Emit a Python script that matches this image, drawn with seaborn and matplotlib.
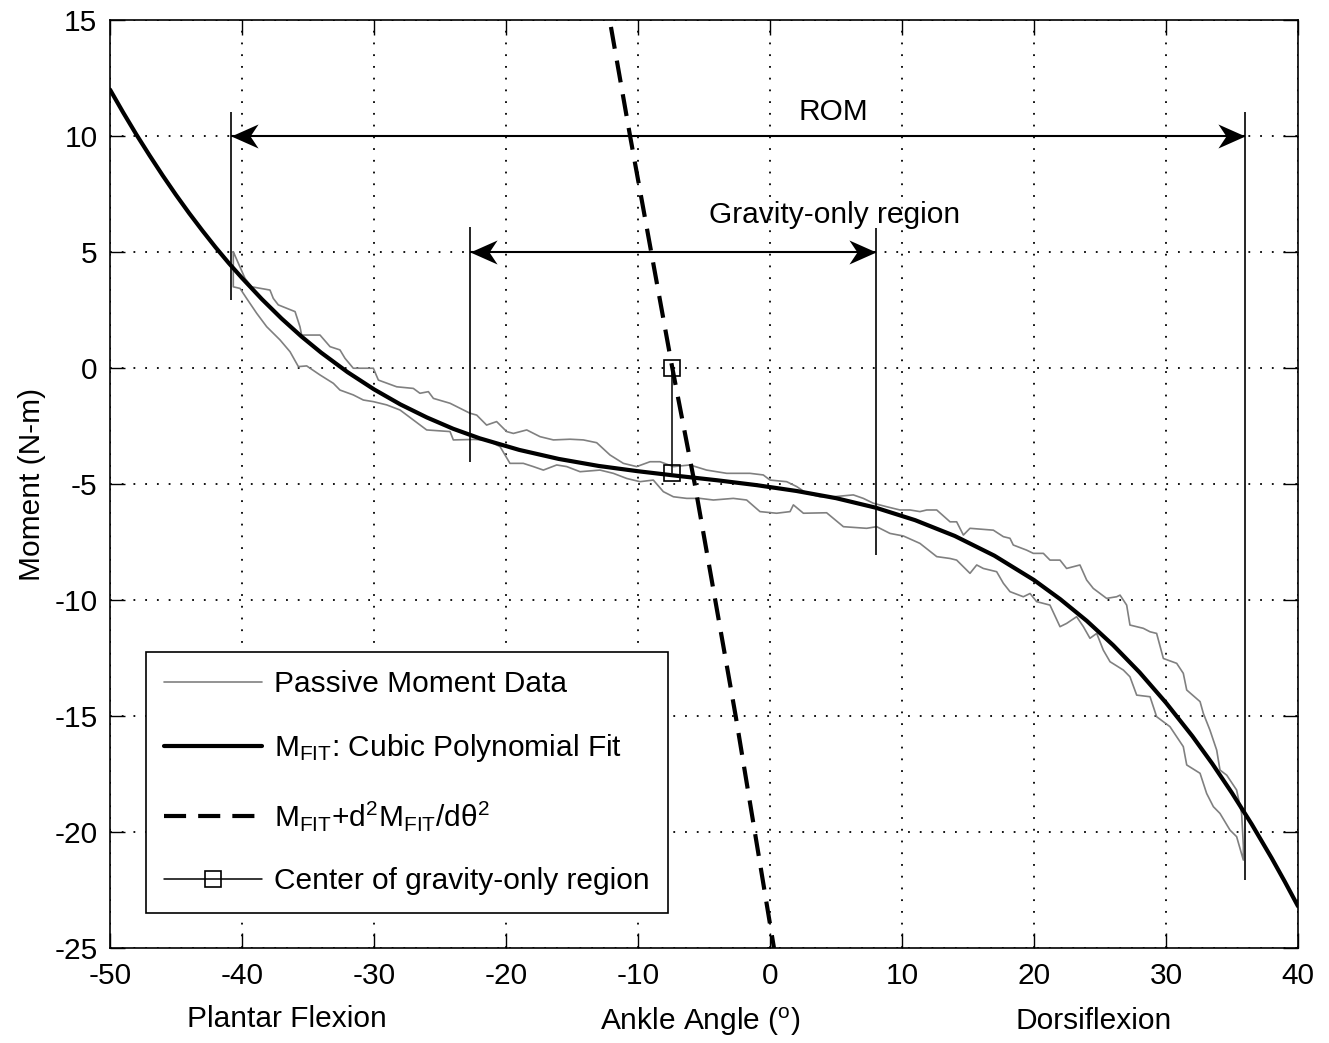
import matplotlib
matplotlib.use('Agg')
import matplotlib.pyplot as plt
from matplotlib.path import Path
import pandas as pd
import seaborn as sns

# cubic polynomial fit
fit_x = [-50, -49, -48, -47, -46, -45, -44, -43, -42, -41,
         -40, -38.5, -37, -35.5, -34, -32, -30, -28, -26, -24,
         -22, -19, -16, -13, -10, -7, -4, -1, 2, 5,
         8, 11, 14, 17, 20, 22, 24, 26, 28, 30,
         32, 33.5, 35, 36.5, 38, 39, 40]
fit_y = [12.0, 11.01, 10.06, 9.16, 8.29, 7.46, 6.67, 5.92, 5.2, 4.52,
         3.88, 2.97, 2.13, 1.36, 0.66, -0.18, -0.92, -1.57, -2.13, -2.62,
         -3.03, -3.53, -3.92, -4.22, -4.45, -4.65, -4.84, -5.05, -5.3, -5.61,
         -6.02, -6.56, -7.24, -8.09, -9.14, -9.97, -10.9, -11.95, -13.12, -14.43,
         -15.87, -17.05, -18.32, -19.67, -21.12, -22.14, -23.2]

# passive moment data: upper branch of the loop
upper_x = [-40.66, -39.77, -39.27, -37.88, -37.63, -37.25, -35.98, -35.61, -35.48, -34.09,
           -33.33, -32.58, -32.2, -31.57, -30.05, -29.67, -28.28, -27.02, -26.52, -25.88,
           -25.5, -24.24, -22.73, -22.22, -21.47, -20.71, -19.95, -19.44, -18.43, -17.42,
           -16.41, -15.15, -14.14, -13.13, -12.12, -11.11, -10.1, -9.09, -8.33, -7.32,
           -6.06, -4.8, -3.28, -1.52, -0.51, 0.0, 1.26, 2.02, 2.78, 3.79,
           4.8, 6.31, 7.07, 7.83, 8.84, 9.85, 10.61, 11.36, 11.87, 12.63,
           13.64, 14.14, 14.65, 15.15, 16.92, 17.68, 18.18, 18.43, 19.44, 19.95,
           20.71, 21.21, 21.97, 22.47, 23.48, 23.99, 24.49, 25.5, 26.26, 26.52,
           27.02, 27.27, 28.28, 28.79, 29.29, 29.8, 30.81, 31.31, 31.57, 32.58,
           32.83, 33.33, 33.84, 34.09, 34.6, 35.35, 35.73, 35.86]
upper_y = [5.01, 3.86, 3.5, 3.36, 3.0, 2.72, 2.43, 1.78, 1.42, 1.42,
           0.92, 0.78, 0.42, -0.01, -0.01, -0.52, -0.81, -0.88, -1.09, -1.02,
           -1.31, -1.52, -1.95, -2.03, -2.46, -2.31, -2.74, -2.82, -2.67, -2.96,
           -3.1, -3.07, -3.1, -3.22, -3.75, -4.11, -4.25, -4.04, -4.04, -4.25,
           -4.18, -4.4, -4.54, -4.54, -4.61, -4.83, -4.9, -5.11, -5.4, -5.55,
           -5.55, -5.47, -5.62, -5.83, -5.98, -6.12, -6.12, -6.19, -6.12, -6.12,
           -6.63, -6.63, -7.2, -6.91, -6.99, -7.27, -7.34, -7.63, -7.85, -7.99,
           -7.99, -8.28, -8.28, -8.64, -8.49, -9.14, -9.5, -9.93, -9.86, -9.79,
           -10.22, -11.08, -11.22, -11.37, -11.44, -12.52, -12.73, -13.16, -13.88, -14.38,
           -14.89, -15.61, -16.47, -17.33, -17.55, -18.19, -19.2, -20.6]

# passive moment data: lower branch of the loop
lower_x = [-40.66, -40.15, -39.65, -38.89, -38.13, -37.12, -36.36, -35.73, -35.1, -34.09,
           -33.08, -32.58, -31.57, -30.81, -30.05, -29.04, -28.03, -27.02, -26.01, -24.24,
           -23.99, -22.47, -21.47, -20.45, -19.7, -18.69, -17.93, -17.17, -16.16, -15.4,
           -14.39, -12.88, -11.87, -10.86, -9.85, -8.84, -8.08, -7.32, -6.31, -5.3,
           -4.29, -2.78, -1.77, -0.76, 0.5, 1.52, 1.77, 2.53, 4.29, 5.56,
           7.32, 8.08, 9.09, 10.1, 11.36, 12.63, 13.64, 14.14, 14.9, 15.15,
           15.66, 16.16, 17.17, 17.68, 18.18, 19.19, 19.7, 20.2, 21.21, 21.97,
           22.47, 23.23, 23.74, 24.24, 24.75, 25.25, 25.76, 26.77, 27.27, 27.78,
           28.79, 29.29, 30.3, 30.81, 31.31, 31.57, 32.58, 33.08, 33.59, 34.09,
           34.85, 35.35, 35.86]
lower_y = [3.5, 3.43, 3.0, 2.36, 1.78, 1.21, 0.7, 0.06, 0.09, -0.3,
           -0.66, -0.95, -1.16, -1.38, -1.45, -1.59, -1.81, -2.24, -2.67, -2.74,
           -3.1, -3.08, -3.1, -3.39, -4.11, -4.11, -4.25, -4.4, -4.18, -4.25,
           -4.47, -4.4, -4.54, -4.76, -4.9, -4.83, -5.33, -5.55, -5.62, -5.62,
           -5.69, -5.62, -5.69, -6.19, -6.26, -6.19, -5.9, -6.26, -6.24, -6.84,
           -6.91, -6.84, -7.13, -7.24, -7.56, -8.13, -8.21, -8.28, -8.71, -8.85,
           -8.49, -8.64, -8.78, -9.28, -9.64, -9.86, -9.72, -10.07, -10.22, -11.15,
           -11.01, -10.72, -11.15, -11.65, -11.44, -12.16, -12.66, -13.02, -13.31, -14.1,
           -14.17, -15.03, -15.46, -15.89, -16.32, -17.11, -17.47, -18.34, -18.91, -19.2,
           -19.92, -20.2, -21.21]

# M_FIT + d2M_FIT/dtheta2
curv_x = [-12.05, -10.6, -7.4, -5.7, -2.6, 0.3]
curv_y = [14.7, 10.0, 0.0, -5.0, -15.0, -25.0]

# center of gravity-only region
center_x = [-7.45, -7.45]
center_y = [0.0, -4.54]

# range of motion and gravity-only region limits
rom_x = [-40.8, 36.0]
rom_ylo = [2.93, -22.07]
rom_yhi = [11.05, 11.05]
rom_arrow_y = 10
grav_x = [-22.73, 8.01]
grav_ylo = [-4.05, -8.06]
grav_yhi = [6.09, 6.03]
grav_arrow_y = 5

passive = pd.DataFrame({'angle': upper_x + lower_x[::-1] + upper_x[:1],
                        'moment': upper_y + lower_y[::-1] + upper_y[:1]})
fit = pd.DataFrame({'angle': fit_x, 'moment': fit_y})
curv = pd.DataFrame({'angle': curv_x, 'moment': curv_y})
center = pd.DataFrame({'angle': center_x, 'moment': center_y})

sns.set_style('ticks')
plt.rcParams['font.family'] = ['Liberation Sans', 'DejaVu Sans']
plt.rcParams['mathtext.fontset'] = 'custom'
plt.rcParams['mathtext.rm'] = 'Liberation Sans'
plt.rcParams['mathtext.it'] = 'Liberation Sans:italic'
plt.rcParams['mathtext.bf'] = 'Liberation Sans:bold'
plt.rcParams['axes.unicode_minus'] = False
plt.rcParams['text.color'] = 'k'
plt.rcParams['axes.labelcolor'] = 'k'

FS = 21.5

fig = plt.figure(figsize=(13.29, 10.43), dpi=100)
ax = fig.add_axes([110 / 1329, 95 / 1043, 1188 / 1329, 928 / 1043])

sns.lineplot(data=passive, x='angle', y='moment', sort=False, estimator=None,
             color='#808080', lw=1.2, ax=ax, label='Passive Moment Data')
sns.lineplot(data=fit, x='angle', y='moment', sort=False, estimator=None,
             color='k', lw=3, ax=ax, label=r'M$_{\mathrm{FIT}}$: Cubic Polynomial Fit')
sns.lineplot(data=curv, x='angle', y='moment', sort=False, estimator=None,
             color='k', lw=3, linestyle=(0, (5.3, 2.9)), ax=ax,
             label=r'M$_{\mathrm{FIT}}$+d$^{2}$M$_{\mathrm{FIT}}$/d$\mathrm{\theta}^{2}$')
sns.lineplot(data=center, x='angle', y='moment', sort=False, estimator=None,
             color='k', lw=1.1, marker='s', markersize=12, markerfacecolor='none',
             markeredgecolor='k', markeredgewidth=1.2, ax=ax,
             label='Center of gravity-only region')

# limit lines and double arrows with swept heads
ax.vlines(rom_x, rom_ylo, rom_yhi, color='k', lw=1.2)
ax.vlines(grav_x, grav_ylo, grav_yhi, color='k', lw=1.2)
ax.hlines([rom_arrow_y, grav_arrow_y], [rom_x[0], grav_x[0]], [rom_x[1], grav_x[1]],
          color='k', lw=1.5)
head_left = Path([(0, 0), (27, 12), (19, 0), (27, -12), (0, 0)],
                 [Path.MOVETO, Path.LINETO, Path.LINETO, Path.LINETO, Path.CLOSEPOLY])
head_right = Path([(0, 0), (-27, 12), (-19, 0), (-27, -12), (0, 0)],
                  [Path.MOVETO, Path.LINETO, Path.LINETO, Path.LINETO, Path.CLOSEPOLY])
ax.plot([rom_x[0], grav_x[0]], [rom_arrow_y, grav_arrow_y], ls='none',
        marker=head_left, markersize=39, color='k', mew=0)
ax.plot([rom_x[1], grav_x[1]], [rom_arrow_y, grav_arrow_y], ls='none',
        marker=head_right, markersize=39, color='k', mew=0)
ax.text(4.8, 11.05, 'ROM', fontsize=FS, ha='center', va='center')
ax.text(4.9, 6.6, 'Gravity-only region', fontsize=FS, ha='center', va='center')

ax.set_xlim(-50, 40)
ax.set_ylim(-25, 15)
ax.set_xticks(range(-50, 41, 10))
ax.set_yticks(range(-25, 16, 5))
ax.grid(True, color='k', ls=(0, (1, 5.5)), lw=1.3)
ax.tick_params(direction='in', length=10.5, width=1, top=True, right=True,
               labelsize=FS, colors='k')
ax.tick_params(axis='x', pad=10)
ax.tick_params(axis='y', pad=9)
for sp in ax.spines.values():
    sp.set_visible(True)
    sp.set_color('k')
    sp.set_linewidth(1.2)

ax.set_xlabel('')
ax.set_ylabel('Moment (N-m)', fontsize=FS, labelpad=6)
ax.text(0.497, -0.079, r'Ankle Angle ($^{\mathrm{o}}$)', fontsize=FS,
        ha='center', va='center', transform=ax.transAxes)
ax.text(0.149, -0.077, 'Plantar Flexion', fontsize=FS,
        ha='center', va='center', transform=ax.transAxes)
ax.text(0.828, -0.079, 'Dorsiflexion', fontsize=FS,
        ha='center', va='center', transform=ax.transAxes)

leg = ax.legend(loc='lower left', bbox_to_anchor=(0.0303, 0.0377), borderaxespad=0,
                fontsize=FS, handlelength=3.3, handletextpad=0.4, borderpad=0.6,
                fancybox=False, framealpha=1, edgecolor='k', numpoints=1,
                labelspacing=1.15)
leg.get_frame().set_linewidth(1.2)

plt.savefig('out.png', dpi=100)
